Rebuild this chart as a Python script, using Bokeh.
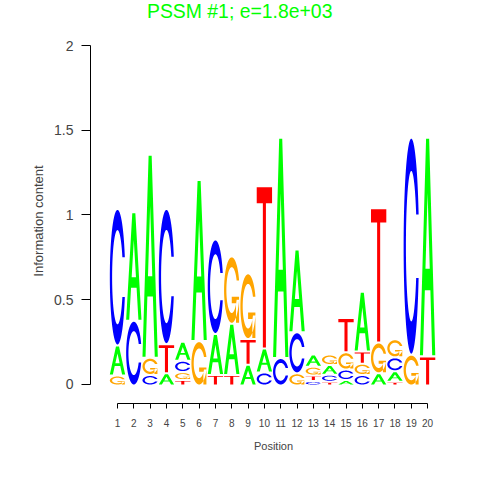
import numpy as np
from bokeh.plotting import figure
from bokeh.models import FixedTicker, Range1d, Div
from bokeh.layouts import column
from bokeh.embed import file_html
from bokeh.resources import INLINE

# ---- data (information content per letter) ----
positions = list(range(1, 21))
A_h = [0.165, 0.628, 1.186, 0.06, 0.10, 0.938, 0.23, 0.29, 0.11, 0.13,
       1.288, 0.476, 0.06, 0.045, 0.02, 0.34, 0.06, 0.05, 0.0, 1.278]
C_h = [0.794, 0.37, 0.05, 0.786, 0.055, 0.0, 0.546, 0.0, 0.0, 0.065,
       0.15, 0.23, 0.015, 0.03, 0.05, 0.05, 0.0, 0.07, 1.268, 0.0]
G_h = [0.047, 0.0, 0.09, 0.0, 0.035, 0.25, 0.0, 0.386, 0.376, 0.0,
       0.0, 0.06, 0.04, 0.05, 0.09, 0.055, 0.17, 0.095, 0.17, 0.0]
T_h = [0.0, 0.0, 0.0, 0.16, 0.02, 0.0, 0.05, 0.05, 0.14, 0.945,
       0.0, 0.0, 0.02, 0.01, 0.19, 0.06, 0.78, 0.01, 0.0, 0.16]
y_ticks = [0, 0.5, 1, 1.5, 2]
y_tick_labels = ["0", "0.5", "1", "1.5", "2"]
x_tick_labels = [str(i) for i in positions]
title_text = "PSSM #1; e=1.8e+03"

letter_colors = {"A": "#00FF00", "C": "#0000FF", "G": "#FFA500", "T": "#FF0000"}

# ---- letter outlines in a unit box (seqLogo style) ----
def c_shape():
    a1 = np.linspace(0.3 + np.pi / 2, np.pi, 100)
    a2 = np.linspace(np.pi, 1.5 * np.pi, 100)
    xl1, yl1 = 0.5 + 0.5 * np.sin(a1), 0.5 + 0.5 * np.cos(a1)
    xl2, yl2 = 0.5 + 0.5 * np.sin(a2), 0.5 + 0.5 * np.cos(a2)
    xl, yl = np.concatenate([xl1, xl2]), np.concatenate([yl1, yl2])
    x = np.concatenate([xl, xl[::-1]])
    y = np.concatenate([yl, 1 - yl[::-1]])
    xi1, yi1 = 0.5 + 0.35 * np.sin(a1), 0.5 + 0.35 * np.cos(a1)
    m = yi1 <= yl1.max()
    xi1, yi1 = xi1[m], yi1[m].copy()
    yi1[0] = yl1.max()
    xi2, yi2 = 0.5 + 0.35 * np.sin(a2), 0.5 + 0.35 * np.cos(a2)
    xi, yi = np.concatenate([xi1, xi2]), np.concatenate([yi1, yi2])
    x1 = np.concatenate([xi, xi[::-1]])
    y1 = np.concatenate([yi, 1 - yi[::-1]])
    x = np.concatenate([x, x1[::-1]])
    y = np.concatenate([y, y1[::-1]])
    return x, y, xl1.max()

cx, cy, r1 = c_shape()
h1 = 0.4
shapes = {
    "A": [[(np.array([0, 4, 6, 10, 8, 6.8, 3.2, 2]) * 0.1,
            np.array([0, 10, 10, 0, 0, 3, 3, 0]) * 0.1),
           (np.array([3.6, 5, 6.4]) * 0.1, np.array([4, 7.5, 4]) * 0.1)]],
    "C": [[(cx, cy)]],
    "G": [[(cx, cy)],
          [(np.array([r1, 0.5, 0.5, r1 - 0.2, r1 - 0.2, r1]),
            np.array([h1, h1, h1 - 0.1, h1 - 0.1, 0, 0]))]],
    "T": [[(np.array([0, 10, 10, 6, 6, 4, 4, 0]) * 0.1,
            np.array([10, 10, 9, 9, 0, 0, 9, 9]) * 0.1)]],
}

letter_w = 0.94
gap = 0.012
xs, ys, cols = [], [], []
for j, pos in enumerate(positions):
    col = {"A": A_h[j], "C": C_h[j], "G": G_h[j], "T": T_h[j]}
    y0 = 0.0
    for letter, h in sorted(col.items(), key=lambda kv: kv[1]):
        if h <= 0:
            continue
        gx, gy = [], []
        for poly in shapes[letter]:
            px, py = [], []
            for rx, ry in poly:
                px.append(list(pos - letter_w / 2 + letter_w * rx))
                py.append(list(y0 + h * ry))
            gx.append(px)
            gy.append(py)
        xs.append(gx)
        ys.append(gy)
        cols.append(letter_colors[letter])
        y0 += h + gap

title_div = Div(text=title_text, width=464, height=38, margin=0,
                styles={"font-family": "Liberation Sans", "font-size": "19.4px",
                        "color": "#00FF00", "line-height": "22px",
                        "text-align": "left", "padding-left": "147px",
                        "white-space": "nowrap"})

p = figure(width=464, height=426, output_backend="svg", toolbar_location=None,
           x_range=Range1d(-0.654, 21.77), y_range=Range1d(-0.1121, 2.0413),
           min_border_left=90, min_border_right=8, min_border_top=0,
           min_border_bottom=61, x_axis_label="Position",
           y_axis_label="Information content", margin=0)
p.outline_line_color = None
p.grid.visible = False
p.background_fill_color = "white"
p.border_fill_color = "white"

p.multi_polygons(xs=xs, ys=ys, fill_color=cols, line_color=None)

xa = p.xaxis[0]
xa.ticker = FixedTicker(ticks=positions)
xa.major_label_overrides = {float(t): s for t, s in zip(positions, x_tick_labels)}
xa.bounds = (positions[0], positions[-1])
xa.major_tick_out = 5
xa.major_tick_in = 0
xa.minor_tick_out = 0
xa.minor_tick_in = 0
xa.major_label_standoff = 10
xa.major_label_text_font = "Liberation Sans"
xa.major_label_text_font_size = "10px"
xa.axis_label_text_font = "Liberation Sans"
xa.axis_label_text_font_size = "11px"
xa.axis_label_text_font_style = "normal"
xa.axis_label_standoff = 10
xa.axis_line_color = "black"
xa.major_tick_line_color = "black"

ya = p.yaxis[0]
ya.ticker = FixedTicker(ticks=y_ticks)
ya.major_label_overrides = {float(t): s for t, s in zip(y_ticks, y_tick_labels)}
ya.bounds = (y_ticks[0], y_ticks[-1])
ya.major_tick_out = 9
ya.major_tick_in = 0
ya.minor_tick_out = 0
ya.minor_tick_in = 0
ya.major_label_standoff = 8
ya.major_label_orientation = "horizontal"
ya.major_label_text_font = "Liberation Sans"
ya.major_label_text_font_size = "14px"
ya.axis_label_text_font = "Liberation Sans"
ya.axis_label_text_font_size = "13px"
ya.axis_label_text_font_style = "normal"
ya.axis_label_standoff = 5
ya.axis_line_color = "black"
ya.major_tick_line_color = "black"

layout = column(title_div, p, spacing=0)
open("out.html", "w").write(file_html(layout, INLINE))
